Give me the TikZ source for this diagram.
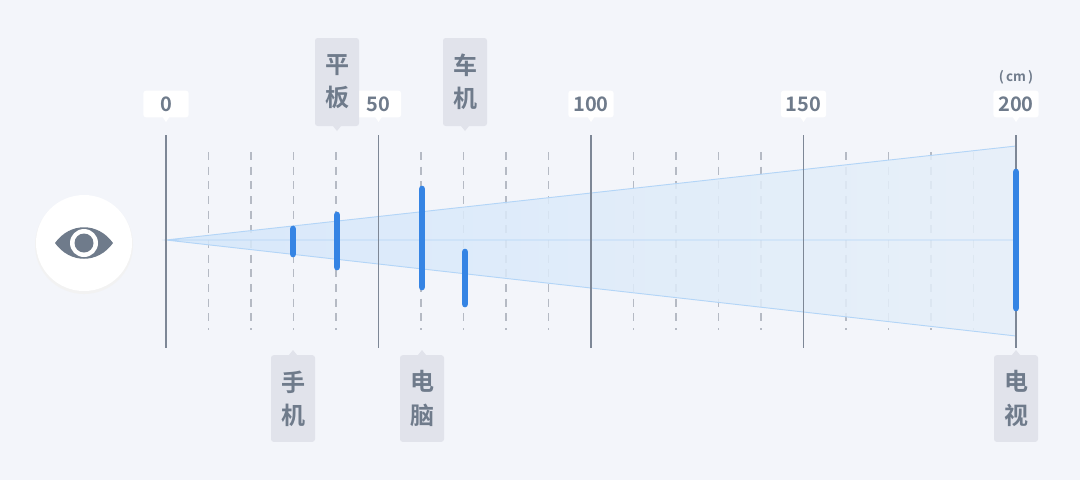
\documentclass[tikz,border=0pt]{standalone}
\usepackage{fontspec}
\newfontfamily\cjk{Noto Sans CJK SC Bold}
\definecolor{bgc}{HTML}{F3F5FA}
\definecolor{txtc}{HTML}{6F7B8B}
\definecolor{axisc}{HTML}{7D8796}
\definecolor{dashc}{HTML}{B5BAC4}
\definecolor{barc}{HTML}{3584E4}
\definecolor{conea}{HTML}{D4E7FA}
\definecolor{coneb}{HTML}{E6EFF9}
\definecolor{conel}{HTML}{B3D5F7}
\definecolor{tagbg}{HTML}{E1E3EB}
\tikzset{
  solidtick/.style={axisc, line width=0.9pt},
  dashtick/.style={dashc, line width=0.9pt, dash pattern=on 6pt off 5pt},
  barline/.style={barc, line width=5pt, line cap=round},
  numtag/.style={fill=white, rounded corners=2pt, minimum width=34pt, minimum height=20pt, inner sep=0pt, text=txtc, font=\cjk\fontsize{15}{15}\selectfont},
  devtag/.style={fill=tagbg, rounded corners=2pt, minimum width=33pt, minimum height=65pt, inner sep=0pt, text=txtc, align=center, font=\cjk\fontsize{18}{25}\selectfont},
}
\begin{document}
\begin{tikzpicture}[x=0.75pt,y=-0.75pt]
\useasboundingbox (0,0) rectangle (1080,480);
\fill[bgc] (0,0) rectangle (1080,480);
\foreach \i in {1,2,3,4,6,7,8,9,11,12,13,14,16,17,18,19}
  \draw[dashtick] ({166+42.5*\i},152) -- ({166+42.5*\i},330);
\coordinate (o) at (166,240);
\coordinate (ct) at (1016,146);
\coordinate (cb) at (1016,336);
\coordinate (cm) at (1016,240);
\shade[left color=conea, right color=coneb, fill opacity=0.85] (o) -- (ct) -- (cb) -- cycle;
\draw[conel, line width=0.7pt] (ct) -- (o) -- (cb) (o) -- (cm);
\foreach \i in {0,50,100,150,200}
  \draw[solidtick] ({166+4.25*\i},135) -- ({166+4.25*\i},348);
\foreach \i in {0,50,100,150,200}{
  \node[numtag] (n\i) at ({166+4.25*\i},104) {\i};
  \fill[white] ({166+4.25*\i-4},116) -- ({166+4.25*\i},122) -- ({166+4.25*\i+4},116) -- cycle;
}
\node[text=txtc, font=\cjk\fontsize{10}{10}\selectfont] (unit) at (1016,77) {(\,cm\,)};
\draw[barline] (293,229) -- (293,254);
\draw[barline] (337,215) -- (337,267);
\draw[barline] (422,189) -- (422,287);
\draw[barline] (465,252) -- (465,304);
\draw[barline] (1016,172) -- (1016,308);
\foreach \x/\t in {337/平\\板, 465/车\\机}{
  \node[devtag, minimum height=66pt] at (\x,82) {\t};
  \fill[tagbg] (\x-4,126) -- (\x,131) -- (\x+4,126) -- cycle;
}
\foreach \x/\t in {293/手\\机, 422/电\\脑, 1016/电\\视}{
  \node[devtag, minimum height=65pt] at (\x,398.5) {\t};
  \fill[tagbg] (\x-4,355) -- (\x,350) -- (\x+4,355) -- cycle;
}
\fill[black!5] (84,245) circle (49);
\node[circle, fill=white, minimum size=72pt, inner sep=0pt] (eye) at (84,243) {};
\fill[txtc] (55,243) .. controls (70,222) and (98,222) .. (113,243) .. controls (98,264) and (70,264) .. (55,243) -- cycle;
\fill[white] (84,243) circle (14);
\fill[txtc] (84,243) circle (9.5);
\end{tikzpicture}
\end{document}
